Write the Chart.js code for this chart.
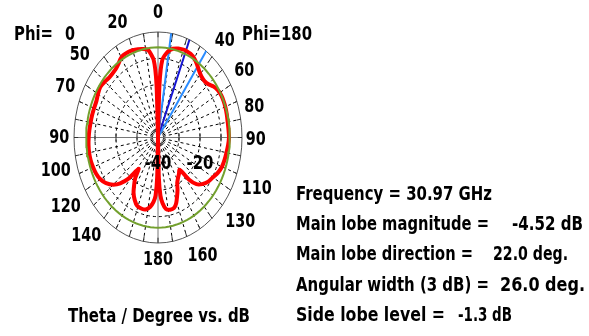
<!DOCTYPE html>
<html>
<head>
<meta charset="utf-8">
<script src="https://cdn.jsdelivr.net/npm/chart.js@4"></script>
<style>
  html, body { margin: 0; padding: 0; background: #fff; }
  #wrap { width: 589px; height: 336px; }
</style>
</head>
<body>
<div id="wrap"><canvas id="polarDiagram" width="589" height="336"></canvas></div>
<script>
// theta in degrees, values in dB
const thetaRight = [0, 2, 4, 8, 12, 16, 20, 22, 26, 30, 34, 38, 42, 46, 50, 54, 58, 62, 66, 70, 75, 80, 85, 90, 95, 100, 105, 110, 115, 120, 125, 130, 134, 137, 140, 144, 148, 152, 155, 158, 161, 164, 168, 172, 175, 177, 178.5, 180];
const dbRight = [-40, -20, -10.5, -7.2, -5.6, -4.9, -4.55, -4.52, -4.7, -5.4, -6.7, -8.1, -9.0, -9.2, -8.6, -7.2, -6.3, -5.9, -5.85, -5.9, -6.1, -6.3, -6.3, -6.2, -6.5, -6.9, -7.2, -7.6, -8.5, -9.8, -10.8, -12.5, -14.5, -18, -24, -23, -22, -20.5, -18, -15.8, -13.5, -12.2, -12, -12.6, -15, -18, -25, -40];

const thetaLeft = [0, 2, 4, 8, 12, 16, 20, 24, 28, 31, 34, 38, 42, 46, 50, 55, 60, 65, 70, 75, 80, 85, 90, 95, 100, 105, 110, 115, 120, 125, 130, 134, 138, 142, 145, 148, 151, 155, 159, 164, 168, 172, 175, 177, 178.5, 180];
const dbLeft = [-40, -20, -10.5, -6.5, -5.7, -5.2, -4.8, -4.6, -4.7, -5.3, -6.3, -7.2, -7.5, -7.5, -7.0, -6.5, -7.0, -7.6, -7.6, -7.5, -7.4, -7.2, -7.0, -6.8, -6.7, -6.8, -7.1, -7.5, -8.3, -9.8, -12.2, -15, -19, -25, -21, -18.5, -16, -13.8, -12.3, -11.9, -12.1, -13.5, -15.5, -18, -25, -40];

const dbMin = -40;
const dbMax = 0;
const ringLevels = [-30, -20, -10];
const sideLobeLevel = -5.82;
const mainLobeDir = 22;
const beamEdges = [9, 35];

const leftTicks = [20, 50, 70, 90, 100, 120, 140];
const rightTicks = [0, 40, 60, 80, 90, 110, 130, 160, 180];
const dbTickLabels = [-40, -20];

const infoLines = [
  ["Frequency = 30.97 GHz", ""],
  ["Main lobe magnitude =", "-4.52 dB"],
  ["Main lobe direction =", "22.0 deg."],
  ["Angular width (3 dB) =", "26.0 deg."],
  ["Side lobe level =", "-1.3 dB"],
];

function rNorm(db) {
  return Math.max(0, (db - dbMin) / (dbMax - dbMin));
}
// side: +1 right (Phi=180), -1 left (Phi=0)
function toXY(theta, db, side) {
  const a = theta * Math.PI / 180;
  const r = rNorm(db);
  return { x: side * r * Math.sin(a), y: r * Math.cos(a) };
}

const rightPts = thetaRight.map((t, i) => toXY(t, dbRight[i], 1));
const leftPts = thetaLeft.map((t, i) => toXY(t, dbLeft[i], -1));

const sideLobePts = [];
for (let t = 0; t <= 360; t += 3) sideLobePts.push(toXY(t, sideLobeLevel, 1));

const mainDirPts = [{ x: 0, y: 0 }, toXY(mainLobeDir, dbMax, 1)];
const edge1Pts = [{ x: 0, y: 0 }, toXY(beamEdges[0], dbMax, 1)];
const edge2Pts = [{ x: 0, y: 0 }, toXY(beamEdges[1], dbMax, 1)];

const FONT = '"Liberation Sans Narrow", "DejaVu Sans Condensed", "Liberation Sans", sans-serif';

// label nudges in px, keyed by side and angle (CST moves labels off the axes)
const nudge = {
  '-1': { 20: [-6, 3], 50: [-1, -2], 70: [2, -8], 90: [2, -1], 100: [-3, 10], 120: [-5, 5], 140: [-7, 0] },
  '1': { 0: [0, 1], 40: [2, -1], 60: [-1, -4], 80: [-3, -10], 90: [-3, 1], 110: [4, 7], 130: [5, 2], 160: [10, -2], 180: [0, -5] },
};

const gridPlugin = {
  id: 'polarGrid',
  beforeDatasetsDraw(chart) {
    const ctx = chart.ctx;
    const xs = chart.scales.x, ys = chart.scales.y;
    const cx = xs.getPixelForValue(0), cy = ys.getPixelForValue(0);
    const rx = xs.getPixelForValue(1) - cx, ry = cy - ys.getPixelForValue(1);
    ctx.save();
    // dashed rings
    ctx.strokeStyle = '#000';
    ctx.lineWidth = 1;
    ctx.setLineDash([3, 3]);
    ringLevels.forEach(l => {
      const f = rNorm(l);
      ctx.beginPath();
      ctx.ellipse(cx, cy, rx * f, ry * f, 0, 0, Math.PI * 2);
      ctx.stroke();
    });
    // dashed spokes every 10 deg
    for (let t = 0; t < 360; t += 10) {
      if (t % 90 === 0) continue;
      const a = t * Math.PI / 180;
      ctx.beginPath();
      ctx.moveTo(cx + rx * 0.06 * Math.sin(a), cy - ry * 0.06 * Math.cos(a));
      ctx.lineTo(cx + rx * Math.sin(a), cy - ry * Math.cos(a));
      ctx.stroke();
    }
    ctx.setLineDash([]);
    // outer ring and axes
    ctx.strokeStyle = '#555';
    ctx.beginPath();
    ctx.ellipse(cx, cy, rx, ry, 0, 0, Math.PI * 2);
    ctx.stroke();
    ctx.strokeStyle = '#777';
    ctx.beginPath();
    ctx.moveTo(cx - rx, cy); ctx.lineTo(cx + rx, cy);
    ctx.moveTo(cx, cy - ry); ctx.lineTo(cx, cy + ry);
    ctx.stroke();
    // ticks on outer ring
    ctx.strokeStyle = '#333';
    for (let t = 0; t < 360; t += 10) {
      const a = t * Math.PI / 180;
      ctx.beginPath();
      ctx.moveTo(cx + rx * Math.sin(a), cy - ry * Math.cos(a));
      ctx.lineTo(cx + rx * 0.95 * Math.sin(a), cy - ry * 0.95 * Math.cos(a));
      ctx.stroke();
    }
    // ticks on horizontal axis
    ringLevels.forEach(l => {
      const f = rNorm(l);
      [-1, 1].forEach(s => {
        ctx.beginPath();
        ctx.moveTo(cx + s * rx * f, cy - 4);
        ctx.lineTo(cx + s * rx * f, cy + 4);
        ctx.stroke();
      });
    });
    ctx.restore();
  },
  afterDraw(chart) {
    const ctx = chart.ctx;
    const xs = chart.scales.x, ys = chart.scales.y;
    const cx = xs.getPixelForValue(0), cy = ys.getPixelForValue(0);
    const rx = xs.getPixelForValue(1) - cx, ry = cy - ys.getPixelForValue(1);
    ctx.save();
    ctx.fillStyle = '#000';
    ctx.font = 'bold 20px ' + FONT;
    ctx.textAlign = 'center';
    ctx.textBaseline = 'middle';
    const place = (t, side) => {
      const a = t * Math.PI / 180;
      const f = 1.2;
      const n = nudge[String(side)][t] || [0, 0];
      const w = String(t).length * 10;
      ctx.fillText(String(t), cx + side * rx * f * Math.sin(a) + n[0], cy - ry * f * Math.cos(a) + 1 + n[1], w);
    };
    leftTicks.forEach(t => place(t, -1));
    rightTicks.forEach(t => place(t, 1));
    // dB labels
    ctx.textBaseline = 'alphabetic';
    dbTickLabels.forEach(v => {
      ctx.fillText(String(v), cx + rx * rNorm(v), cy + 31, 27);
    });
    // phi labels
    ctx.textAlign = 'left';
    ctx.fillText('Phi=', 14, 40, 39);
    ctx.fillText('0', 65, 40, 10);
    ctx.fillText('Phi=180', 242, 40, 70);
    // title
    ctx.font = 'bold 19px ' + FONT;
    ctx.fillText('Theta / Degree vs. dB', 68, 322, 182);
    // info box
    const valX = [0, 512, 493, 500, 458];
    const labW = [196, 193, 177, 193, 149];
    const valW = [0, 71, 75, 85, 54];
    infoLines.forEach((ln, i) => {
      const y = 200 + i * 30.2;
      ctx.fillText(ln[0], 296, y, labW[i]);
      if (ln[1]) ctx.fillText(ln[1], valX[i], y, valW[i]);
    });
    ctx.restore();
  }
};

const lineDs = (data, color, width, tension) => ({
  data: data,
  showLine: true,
  borderColor: color,
  borderWidth: width,
  pointRadius: 0,
  tension: tension || 0,
  fill: false,
});

let ptx = document.getElementById('polarDiagram').getContext('2d');

let polarDiagram = new Chart(ptx, {
  type: 'scatter',
  data: {
    datasets: [
      lineDs(sideLobePts, '#73a02e', 2),
      lineDs(rightPts, '#ff0000', 4, 0.2),
      lineDs(leftPts, '#ff0000', 4, 0.2),
      lineDs(edge1Pts, '#2a8cff', 2),
      lineDs(edge2Pts, '#2a8cff', 2),
      lineDs(mainDirPts, '#1414d2', 2),
    ]
  },
  options: {
    responsive: false,
    animation: false,
    events: [],
    layout: {
      padding: { left: 74, right: 347, top: 32, bottom: 93 }
    },
    plugins: {
      legend: { display: false },
      tooltip: { enabled: false },
    },
    scales: {
      x: { type: 'linear', min: -1, max: 1, display: false },
      y: { type: 'linear', min: -1, max: 1, display: false },
    }
  },
  plugins: [gridPlugin]
});
</script>
</body>
</html>
